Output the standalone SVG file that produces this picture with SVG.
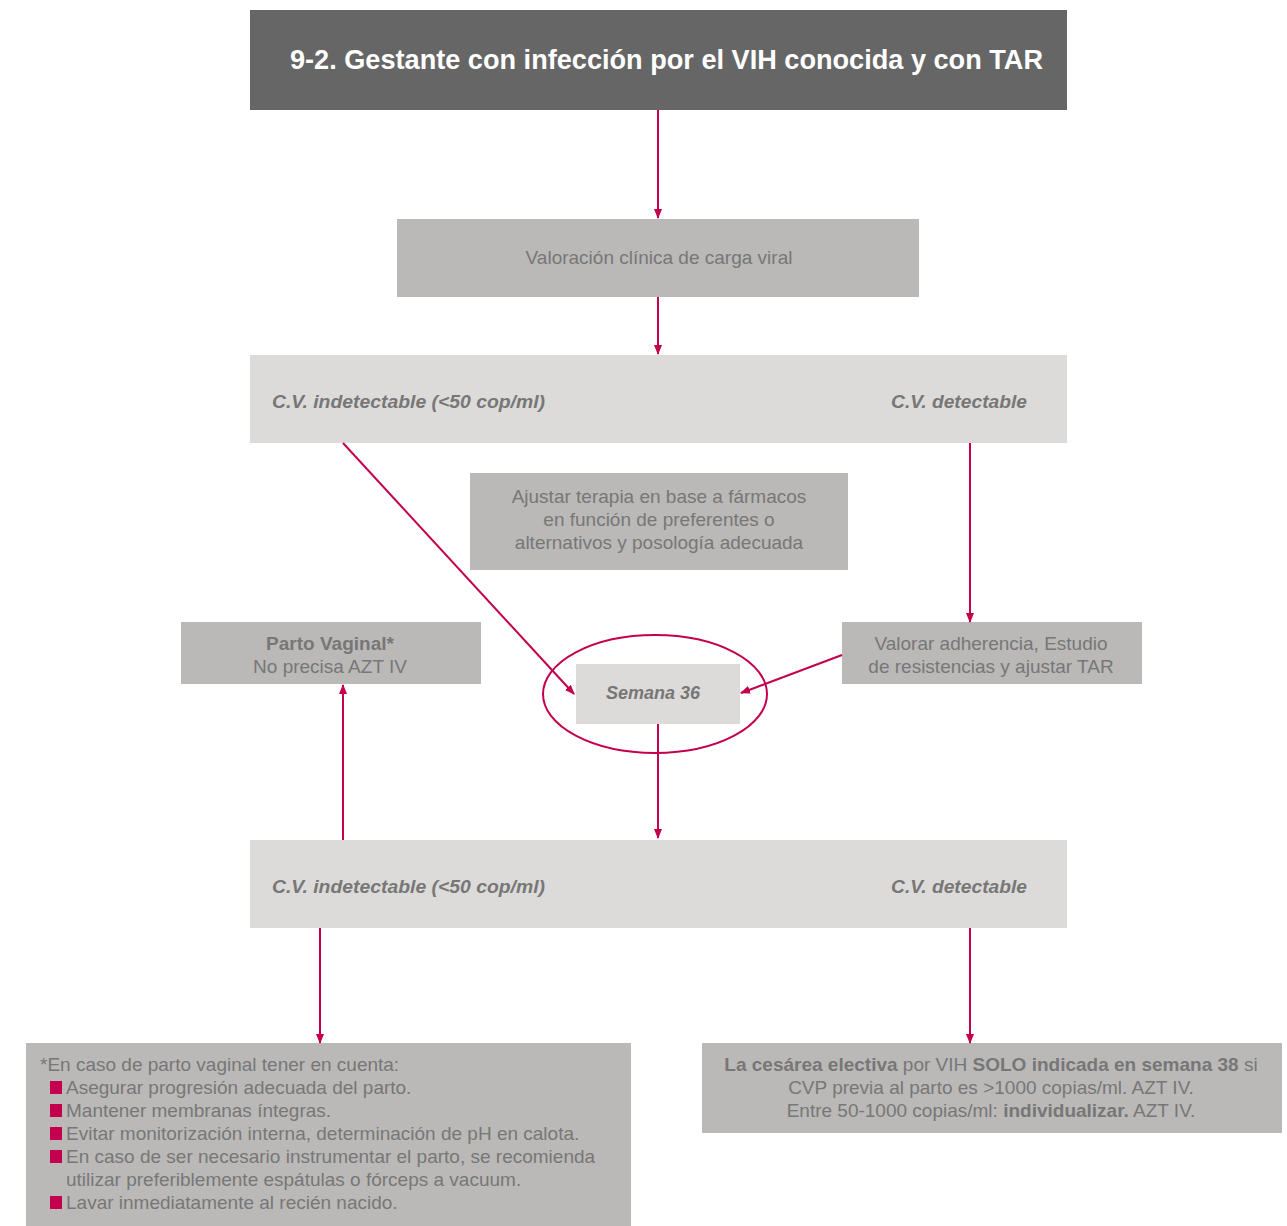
<svg xmlns="http://www.w3.org/2000/svg" width="1287" height="1226" viewBox="0 0 1287 1226">
<style>
text{font-family:"Liberation Sans",Arial,sans-serif;fill:#777;}
.t{font-size:19px;}
.c{text-anchor:middle;}
.bi{font-weight:bold;font-style:italic;font-size:18px;}
.b{font-weight:bold;}
.mid{fill:#bab9b8;}
.lt{fill:#dcdbda;}
.con line,.con path{stroke:#c4004e;stroke-width:2;fill:none;}
</style>
<defs>
<marker id="ah" viewBox="0 0 10 10" refX="9" refY="5" markerWidth="10" markerHeight="10" orient="auto" markerUnits="userSpaceOnUse">
<path d="M0,1 L10,5 L0,9 z" fill="#c4004e"/>
</marker>
</defs>
<rect width="1287" height="1226" fill="#fff"/>

<g id="header">
<rect x="250" y="10" width="817" height="100" fill="#666"/>
<text x="290" y="69" style="fill:#fff;font-weight:bold;font-size:27px" textLength="753" lengthAdjust="spacingAndGlyphs">9-2. Gestante con infección por el VIH conocida y con TAR</text>
</g>

<g id="valoracion">
<rect class="mid" x="397" y="219" width="522" height="78"/>
<text class="t c" x="659" y="264">Valoración clínica de carga viral</text>
</g>

<g id="cv1">
<rect class="lt" x="250" y="355" width="817" height="88"/>
<text class="bi" x="272" y="408" textLength="273" lengthAdjust="spacingAndGlyphs">C.V. indetectable (&lt;50 cop/ml)</text>
<text class="bi" x="891" y="408" textLength="136" lengthAdjust="spacingAndGlyphs">C.V. detectable</text>
</g>

<g id="ajustar">
<rect class="mid" x="470" y="473" width="378" height="97"/>
<text class="t c" x="659" y="503">Ajustar terapia en base a fármacos</text>
<text class="t c" x="659" y="526">en función de preferentes o</text>
<text class="t c" x="659" y="549">alternativos y posología adecuada</text>
</g>

<g id="parto">
<rect class="mid" x="181" y="622" width="300" height="62"/>
<text class="t c b" x="330" y="650">Parto Vaginal*</text>
<text class="t c" x="330" y="673">No precisa AZT IV</text>
</g>

<g id="valorar">
<rect class="mid" x="842" y="622" width="300" height="62"/>
<text class="t c" x="991" y="650">Valorar adherencia, Estudio</text>
<text class="t c" x="991" y="673">de resistencias y ajustar TAR</text>
</g>

<g id="semana">
<rect class="lt" x="576" y="664" width="164" height="60"/>
<text class="bi c" x="653" y="699">Semana 36</text>
<ellipse cx="655" cy="694" rx="112" ry="59" fill="none" stroke="#c4004e" stroke-width="2"/>
</g>

<g id="cv2">
<rect class="lt" x="250" y="840" width="817" height="88"/>
<text class="bi" x="272" y="893" textLength="273" lengthAdjust="spacingAndGlyphs">C.V. indetectable (&lt;50 cop/ml)</text>
<text class="bi" x="891" y="893" textLength="136" lengthAdjust="spacingAndGlyphs">C.V. detectable</text>
</g>

<g id="nota">
<rect class="mid" x="26" y="1043" width="605" height="183"/>
<text class="t" x="40" y="1071">*En caso de parto vaginal tener en cuenta:</text>
<g fill="#c4004e">
<rect x="50" y="1081" width="12" height="13"/>
<rect x="50" y="1104" width="12" height="13"/>
<rect x="50" y="1127" width="12" height="13"/>
<rect x="50" y="1150" width="12" height="13"/>
<rect x="50" y="1196" width="12" height="13"/>
</g>
<text class="t" x="66" y="1094">Asegurar progresión adecuada del parto.</text>
<text class="t" x="66" y="1117">Mantener membranas íntegras.</text>
<text class="t" x="66" y="1140">Evitar monitorización interna, determinación de pH en calota.</text>
<text class="t" x="66" y="1163">En caso de ser necesario instrumentar el parto, se recomienda</text>
<text class="t" x="66" y="1186">utilizar preferiblemente espátulas o fórceps a vacuum.</text>
<text class="t" x="66" y="1209">Lavar inmediatamente al recién nacido.</text>
</g>

<g id="cesarea">
<rect class="mid" x="702" y="1043" width="580" height="90"/>
<text class="t c" x="991" y="1071"><tspan class="b">La cesárea electiva</tspan> por VIH <tspan class="b">SOLO indicada en semana 38</tspan> si</text>
<text class="t c" x="991" y="1094">CVP previa al parto es &gt;1000 copias/ml. AZT IV.</text>
<text class="t c" x="991" y="1117">Entre 50-1000 copias/ml: <tspan class="b">individualizar.</tspan> AZT IV.</text>
</g>

<g id="connectors" class="con">
<line x1="658" y1="110" x2="658" y2="218" marker-end="url(#ah)"/>
<line x1="658" y1="297" x2="658" y2="354" marker-end="url(#ah)"/>
<line x1="343" y1="443" x2="574" y2="694" marker-end="url(#ah)"/>
<line x1="970" y1="443" x2="970" y2="622" marker-end="url(#ah)"/>
<line x1="842" y1="655" x2="741" y2="693" marker-end="url(#ah)"/>
<line x1="658" y1="724" x2="658" y2="838" marker-end="url(#ah)"/>
<line x1="343" y1="840" x2="343" y2="685" marker-end="url(#ah)"/>
<line x1="320" y1="928" x2="320" y2="1043" marker-end="url(#ah)"/>
<line x1="970" y1="928" x2="970" y2="1043" marker-end="url(#ah)"/>
</g>
</svg>
